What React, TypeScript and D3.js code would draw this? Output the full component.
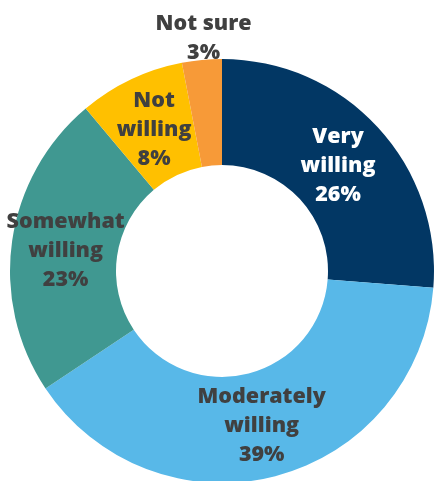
import React from "react";
import * as d3 from "d3";

const categories = ["Very willing", "Moderately willing", "Somewhat willing", "Not willing", "Not sure"];
const values = [26, 39, 23, 8, 3];
const labelLines = [
  ["Very", "willing", "26%"],
  ["Moderately", "willing", "39%"],
  ["Somewhat", "willing", "23%"],
  ["Not", "willing", "8%"],
  ["Not sure", "3%"],
];
const colors = ["#023764", "#58B8E8", "#409891", "#FFC000", "#F79A38"];
const textColors = ["#ffffff", "#404040", "#404040", "#404040", "#404040"];

const W = 435;
const H = 481;
const cx = 222;
const cy = 271;
const outerR = 212;
const innerR = 106;
const fontSize = 21.5;
const lineH = 29;

export default function App() {
  const data = categories.map((c, i) => ({ c, v: values[i], i }));
  const pie = d3
    .pie<any>()
    .sort(null)
    .value((d: any) => d.v)
    .startAngle(0)
    .endAngle(2 * Math.PI);
  const arcs = pie(data);
  const arc = d3.arc<any>().innerRadius(innerR).outerRadius(outerR);

  return (
    <svg
      width={W}
      height={H}
      style={{ position: "fixed", left: 0, top: 0 }}
      fontFamily="'Open Sans', Lato, sans-serif"
    >
      <g transform={`translate(${cx},${cy})`}>
        {arcs.map((a, i) => (
          <path key={i} d={arc(a) || ""} fill={colors[i]} />
        ))}
        {arcs.map((a, i) => {
          const mid = (a.startAngle + a.endAngle) / 2;
          const r = i === 4 ? 236 : 158;
          const x = Math.sin(mid) * r + (i === 4 ? 4 : 0);
          const y = -Math.cos(mid) * r;
          const lines = labelLines[i];
          const n = lines.length;
          return (
            <text
              key={"t" + i}
              x={x}
              y={y}
              textAnchor="middle"
              fill={textColors[i]}
              fontSize={fontSize}
              fontWeight={800}
            >
              {lines.map((l, j) => (
                <tspan key={j} x={x} y={y + (j - (n - 1) / 2) * lineH + 8}>
                  {l}
                </tspan>
              ))}
            </text>
          );
        })}
      </g>
    </svg>
  );
}
